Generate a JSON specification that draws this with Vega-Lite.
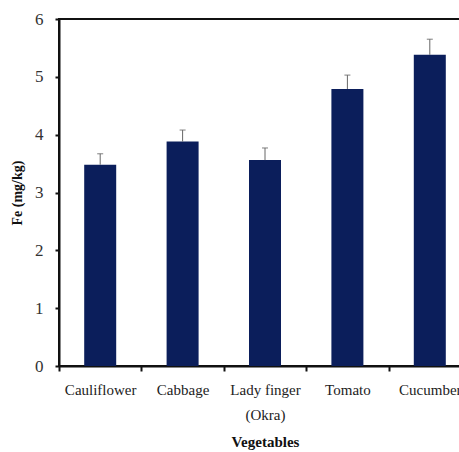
{
  "$schema": "https://vega.github.io/schema/vega-lite/v6.json",
  "autosize": {"type": "none"},
  "padding": {"left": 59, "top": 19, "right": 0, "bottom": 86},
  "width": 412,
  "height": 347,
  "background": "white",
  "config": {
    "view": {"stroke": "#111", "strokeWidth": 2},
    "font": "Liberation Serif"
  },
  "data": {
    "values": [
      {"veg": "Cauliflower", "fe": 3.48, "up": 3.67},
      {"veg": "Cabbage", "fe": 3.88, "up": 4.08},
      {"veg": "Lady finger\n(Okra)", "fe": 3.56, "up": 3.77},
      {"veg": "Tomato", "fe": 4.79, "up": 5.03},
      {"veg": "Cucumber", "fe": 5.38, "up": 5.65}
    ]
  },
  "encoding": {
    "x": {
      "field": "veg", "type": "nominal", "sort": null,
      "scale": {"padding": 0},
      "axis": {
        "title": "Vegetables", "labelAngle": 0, "tickBand": "extent",
        "domainColor": "#111", "domainWidth": 2, "tickColor": "#111", "tickWidth": 2, "tickSize": 5,
        "labelFont": "Liberation Serif", "labelFontSize": 15, "labelColor": "#222",
        "labelPadding": 11, "labelLineHeight": 25,
        "labelExpr": "isValid(datum.value) ? split(datum.value, '\\n') : ''",
        "titleFont": "Liberation Serif", "titleFontSize": 15, "titleFontWeight": "bold", "titleColor": "#111",
        "titlePadding": 12
      }
    }
  },
  "layer": [
    {
      "mark": {"type": "bar", "size": 32, "color": "#0b1e5b"},
      "encoding": {
        "y": {
          "field": "fe", "type": "quantitative",
          "scale": {"domain": [0, 6], "nice": false},
          "axis": {
            "title": "Fe (mg/kg)", "values": [0, 1, 2, 3, 4, 5, 6], "format": "d", "grid": false,
            "domainColor": "#111", "domainWidth": 2, "tickColor": "#111", "tickWidth": 2, "tickSize": 4,
            "labelFont": "Liberation Serif", "labelFontSize": 17, "labelColor": "#333", "labelPadding": 12,
            "titleFont": "Liberation Serif", "titleFontSize": 14, "titleFontWeight": "bold", "titleColor": "#111",
            "titlePadding": 10
          }
        }
      }
    },
    {
      "mark": {"type": "rule", "color": "#666", "strokeWidth": 1},
      "encoding": {"y": {"field": "fe", "type": "quantitative"}, "y2": {"field": "up"}}
    },
    {
      "mark": {"type": "tick", "color": "#666", "size": 6, "thickness": 1.2, "orient": "horizontal"},
      "encoding": {"y": {"field": "up", "type": "quantitative"}}
    }
  ]
}
